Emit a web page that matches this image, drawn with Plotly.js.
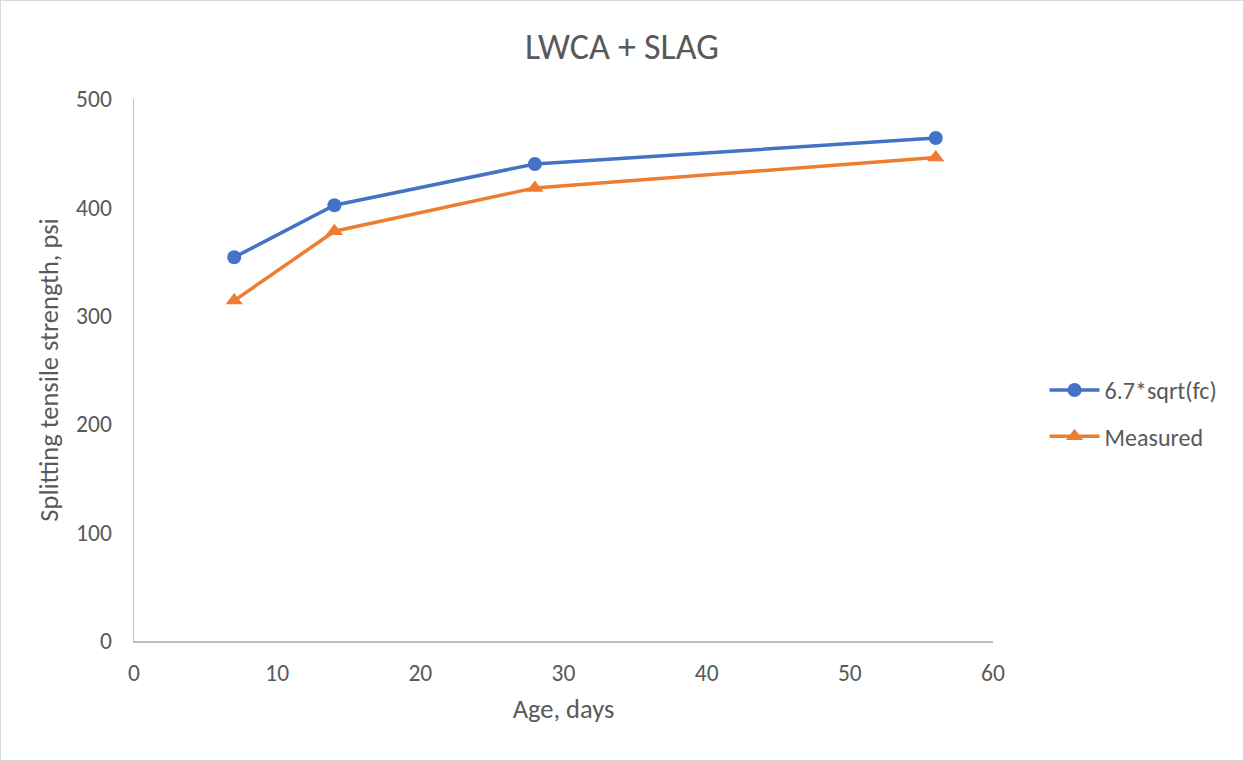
<!DOCTYPE html>
<html>
<head>
<meta charset="utf-8">
<script src="https://cdn.plot.ly/plotly-3.0.1.min.js"></script>
<style>
  html, body { margin: 0; padding: 0; background: #fff; }
  #wrap { width: 1244px; height: 761px; box-sizing: border-box; border: 1px solid #d9d9d9; }
  #chart { width: 1242px; height: 759px; }
</style>
</head>
<body>
<div id="wrap"><div id="chart"></div></div>
<script>
const ages = [7, 14, 28, 56];
const predicted = [354, 402, 440, 464];
const measured = [314, 378, 418, 446];
const seriesNames = ["6.7*sqrt(fc)", "Measured"];
const xTicks = [0, 10, 20, 30, 40, 50, 60];
const yTicks = [0, 100, 200, 300, 400, 500];

const font = "Carlito, Lato, 'Open Sans', sans-serif";
const gray = "#595959";

const traces = [
  {
    x: ages, y: predicted, name: seriesNames[0], type: "scatter", mode: "lines+markers",
    legendgroup: "a",
    line: { color: "#4472c4", width: 3.5 },
    marker: { symbol: "circle", size: 14, color: "#4472c4" }
  },
  {
    x: ages, y: measured, name: seriesNames[1], type: "scatter", mode: "lines+markers",
    legendgroup: "b",
    line: { color: "#ed7d31", width: 3.5 },
    marker: { symbol: "triangle-up", size: 15, color: "#ed7d31" }
  }
];

const layout = {
  width: 1242, height: 759,
  margin: { l: 133, r: 250, t: 98, b: 119 },
  paper_bgcolor: "#fff", plot_bgcolor: "#fff",
  font: { family: font, color: gray, size: 23.5 },
  title: { text: "LWCA + SLAG", font: { size: 36, color: gray, family: font }, x: 0.5, xanchor: "center", xref: "container", y: 0.94, yanchor: "middle", yref: "container" },
  xaxis: {
    range: [0, 60], tickvals: xTicks, ticktext: xTicks.map(String),
    showgrid: false, zeroline: false, showline: true, linecolor: "#bfbfbf", linewidth: 1.5,
    ticks: "", ticklen: 0, ticklabelstandoff: 10, tickfont: { size: 23.5, color: gray },
    title: { text: "Age, days", font: { size: 26.5, color: gray }, standoff: 13 }
  },
  yaxis: {
    range: [0, 500], tickvals: yTicks, ticktext: yTicks.map(String),
    showgrid: false, zeroline: false, showline: true, linecolor: "#bfbfbf", linewidth: 1.5,
    ticks: "", ticklabelstandoff: 16, tickfont: { size: 23.5, color: gray },
    title: { text: "Splitting tensile strength, psi", font: { size: 26.5, color: gray }, standoff: 10 }
  },
  legend: {
    x: 1.06, xanchor: "left", y: 0.42, yanchor: "middle",
    font: { size: 24, color: gray }, itemwidth: 50, tracegroupgap: 12,
    bgcolor: "rgba(0,0,0,0)"
  },
  showlegend: true
};

Plotly.newPlot("chart", traces, layout, { displayModeBar: false, staticPlot: true });
</script>
</body>
</html>
